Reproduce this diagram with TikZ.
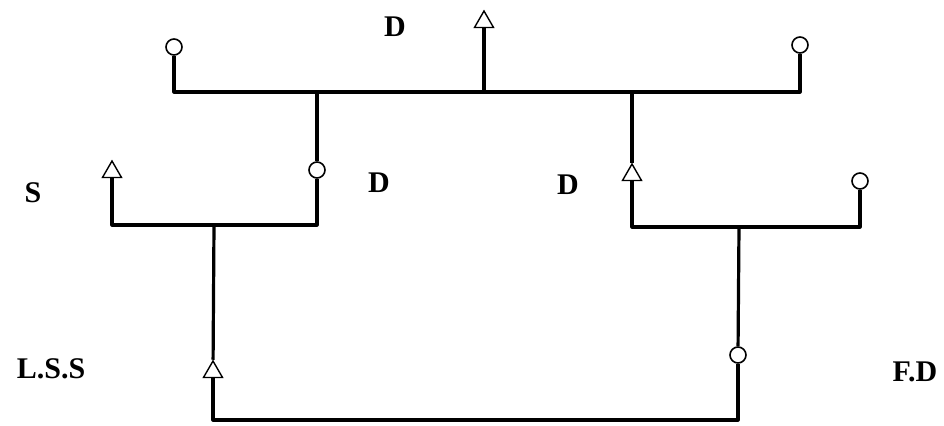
\documentclass[tikz,border=0pt]{standalone}
\usepackage{fontspec}
\setmainfont{Liberation Serif}
\usetikzlibrary{shapes.geometric}
\begin{document}
\begin{tikzpicture}[x=0.5pt,y=-0.5pt,
  fem/.style={circle,draw,line width=0.8pt,minimum size=8pt,inner sep=0pt},
  mal/.style={regular polygon,regular polygon sides=3,draw,line width=0.7pt,minimum size=11pt,inner sep=0pt},
  lbl/.style={font=\bfseries\fontsize{15}{17}\selectfont,inner sep=0pt},
  kin/.style={line width=1.6pt,line join=round}]
\useasboundingbox (0,0) rectangle (944,425);
% symbols
\node[fem] (f1) at (174,47) {};
\node[fem] (f2) at (800,45) {};
\node[mal] (m1) at (484,22) {};
\node[fem] (f3) at (317,170) {};
\node[mal] (m2) at (112,172) {};
\node[mal] (m3) at (632,175) {};
\node[fem] (f4) at (860,181) {};
\node[mal] (m4) at (213,372) {};
\node[fem] (f5) at (738,355) {};
% junctions
\coordinate (tl) at (174,92);
\coordinate (tr) at (800,92);
\coordinate (j1) at (484,92);
\coordinate (j2) at (317,92);
\coordinate (j3) at (632,92);
\coordinate (ll) at (112,225);
\coordinate (lr) at (317,225);
\coordinate (rl) at (632,227);
\coordinate (rr) at (860,227);
\coordinate (jl) at (214,225);
\coordinate (jr) at (739,227);
\coordinate (bl) at (213,420);
\coordinate (br) at (738,420);
% labels
\node[lbl] (dtop) at (395,27) {D};
\node[lbl] (s) at (33,193) {S};
\node[lbl] (dl) at (379,183) {D};
\node[lbl] (dr) at (568,185) {D};
\node[lbl] (lss) at (51,369) {L.S.S};
\node[lbl] (fd) at (915,372) {F.D};
% connectors
\draw[kin] (f1) -- (tl) -- (tr) -- (f2);
\draw[kin] (m1) -- (j1);
\draw[kin] (j2) -- (f3);
\draw[kin] (f3) -- (lr) -- (ll) -- (m2);
\draw[kin] (j3) -- (m3);
\draw[kin] (m3) -- (rl) -- (rr) -- (f4);
\draw[kin] (jl) -- (m4);
\draw[kin] (jr) -- (f5);
\draw[kin] (m4) -- (bl) -- (br) -- (f5);
\end{tikzpicture}
\end{document}
